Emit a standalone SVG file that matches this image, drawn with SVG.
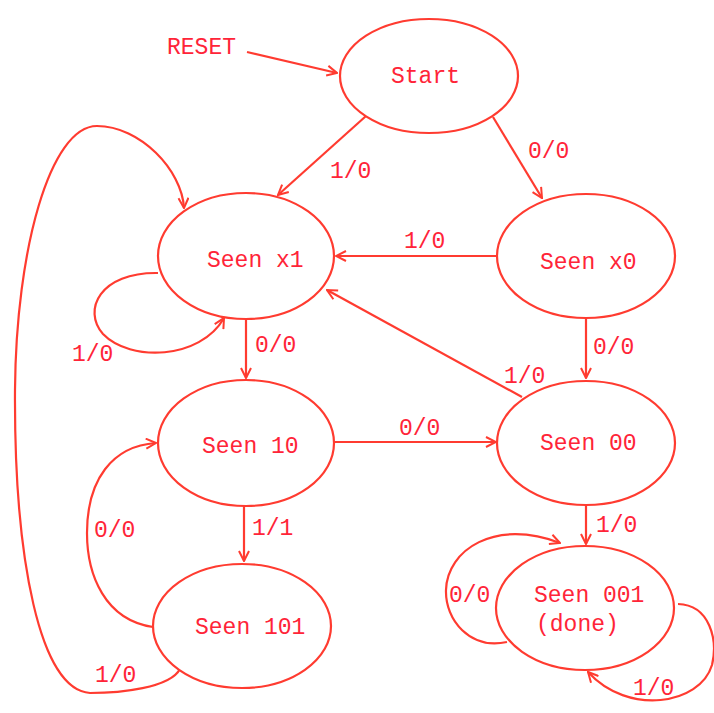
<svg xmlns="http://www.w3.org/2000/svg" width="714" height="713" viewBox="0 0 714 713">
  <defs>
    <style>
      .state { fill: #ffffff; stroke: #ff3b30; stroke-width: 2.2; }
      .edge { fill: none; stroke: #ff3b30; stroke-width: 2.2; marker-end: url(#arrow); }
      text { font-family: "Liberation Mono", "DejaVu Sans Mono", monospace; font-size: 23px; fill: #ff2438; }
    </style>
    <marker id="arrow" viewBox="0 0 12 12" refX="11" refY="6" markerWidth="12" markerHeight="12" markerUnits="userSpaceOnUse" orient="auto">
      <path d="M1,1 L11,6 L1,11" fill="none" stroke="#ff3b30" stroke-width="2"/>
    </marker>
  </defs>
  <rect width="714" height="713" fill="#ffffff"/>

  <!-- connectors -->
  <g id="connectors">
    <path class="edge" d="M247,52 L337,73"/>
    <path class="edge" d="M366,116 L278,195"/>
    <path class="edge" d="M493,117 L542,198"/>
    <path class="edge" d="M497,256 L336,256"/>
    <path class="edge" d="M522,397 L327,290"/>
    <path class="edge" d="M246,319 L246,378"/>
    <path class="edge" d="M586,318 L586,378"/>
    <path class="edge" d="M334,442 L496,442"/>
    <path class="edge" d="M244,502 L244,561"/>
    <path class="edge" d="M586,505 L586,544"/>
    <!-- Seen x1 self loop -->
    <path class="edge" d="M158,273 C100,272 82,310 103,334 C130,362 200,360 224,318"/>
    <!-- Seen 101 back to Seen x1 -->
    <path class="edge" d="M180,669 C170,688 120,693 90,693 C40,690 14,560 15,390 C16,250 50,126 97,126 C140,126 182,170 184,208"/>
    <!-- Seen 101 back to Seen 10 -->
    <path class="edge" d="M153,627 C105,620 87,575 87,533 C87,480 112,446 156,443"/>
    <!-- Seen 001 self loops -->
    <path class="edge" d="M507,642 C470,650 445,620 446,590 C447,550 495,518 560,543"/>
    <path class="edge" d="M678,604 C710,605 718,640 712,665 C700,705 628,716 588,672"/>
  </g>

  <!-- states -->
  <g id="start">
    <ellipse class="state" cx="429" cy="76" rx="89" ry="57"/>
    <text x="391" y="83">Start</text>
  </g>
  <g id="seen-x1">
    <ellipse class="state" cx="246" cy="256" rx="88" ry="63"/>
    <text x="207" y="267">Seen x1</text>
  </g>
  <g id="seen-x0">
    <ellipse class="state" cx="586" cy="256" rx="89" ry="62"/>
    <text x="540" y="269">Seen x0</text>
  </g>
  <g id="seen-10">
    <ellipse class="state" cx="246" cy="443" rx="88" ry="63"/>
    <text x="202" y="453">Seen 10</text>
  </g>
  <g id="seen-00">
    <ellipse class="state" cx="586" cy="443" rx="89" ry="62"/>
    <text x="540" y="450">Seen 00</text>
  </g>
  <g id="seen-101">
    <ellipse class="state" cx="242" cy="626" rx="89" ry="62"/>
    <text x="195" y="634">Seen 101</text>
  </g>
  <g id="seen-001">
    <ellipse class="state" cx="585" cy="608" rx="89" ry="62"/>
    <text x="534" y="602">Seen 001</text>
    <text x="536" y="631">(done)</text>
  </g>

  <!-- labels -->
  <g id="labels">
    <text x="167" y="54">RESET</text>
    <text x="330" y="178">1/0</text>
    <text x="528" y="158">0/0</text>
    <text x="404" y="248">1/0</text>
    <text x="72" y="361">1/0</text>
    <text x="255" y="352">0/0</text>
    <text x="593" y="354">0/0</text>
    <text x="504" y="383">1/0</text>
    <text x="399" y="435">0/0</text>
    <text x="94" y="537">0/0</text>
    <text x="252" y="535">1/1</text>
    <text x="596" y="532">1/0</text>
    <text x="449" y="602">0/0</text>
    <text x="95" y="682">1/0</text>
    <text x="633" y="695">1/0</text>
  </g>
</svg>
